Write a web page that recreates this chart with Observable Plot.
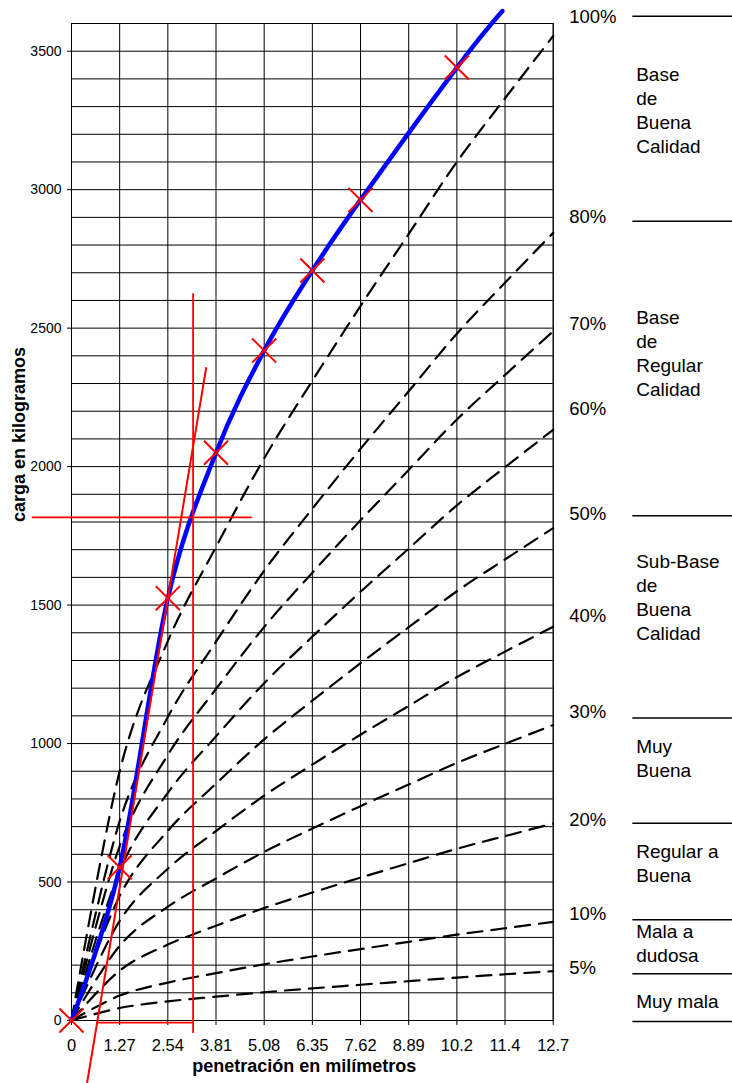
<!DOCTYPE html>
<html>
<head>
<meta charset="utf-8">
<script src="https://cdn.jsdelivr.net/npm/d3@7"></script>
<script src="https://cdn.jsdelivr.net/npm/@observablehq/plot@0.6"></script>
<style>
html, body { margin: 0; padding: 0; background: #fff; }
#chart svg { display: block; }
</style>
</head>
<body>
<div id="chart"></div>
<script>
// ---- axis ticks ----
const xTicks = [0, 1.27, 2.54, 3.81, 5.08, 6.35, 7.62, 8.89, 10.16, 11.43, 12.7];
const xTickLabels = ["0", "1.27", "2.54", "3.81", "5.08", "6.35", "7.62", "8.89", "10.2", "11.4", "12.7"];
const yTicks = [0, 500, 1000, 1500, 2000, 2500, 3000, 3500];
const yTickLabels = ["0", "500", "1000", "1500", "2000", "2500", "3000", "3500"];
const yGrid = [0,100,200,300,400,500,600,700,800,900,1000,1100,1200,1300,1400,1500,1600,1700,1800,1900,2000,2100,2200,2300,2400,2500,2600,2700,2800,2900,3000,3100,3200,3300,3400,3500,3600];

// ---- reference CBR curves (kg at each penetration) ----
const penet = [0, 1.27, 2.54, 3.81, 5.08, 6.35, 7.62, 8.89, 10.16, 11.43, 12.7];
const cbr5   = [0, 45, 69, 86, 102, 116, 129, 142, 155, 167, 178];
const cbr10  = [0, 90, 137, 171, 203, 231, 258, 284, 310, 333, 356];
const cbr20  = [0, 180, 274, 342, 406, 462, 516, 568, 620, 666, 711];
const cbr30  = [0, 270, 411, 513, 609, 693, 774, 852, 930, 999, 1067];
const cbr40  = [0, 360, 548, 684, 812, 924, 1032, 1136, 1240, 1332, 1422];
const cbr50  = [0, 450, 685, 855, 1015, 1155, 1290, 1420, 1550, 1665, 1778];
const cbr60  = [0, 540, 822, 1026, 1218, 1386, 1548, 1704, 1860, 1998, 2133];
const cbr70  = [0, 630, 959, 1197, 1421, 1617, 1806, 1988, 2170, 2331, 2489];
const cbr80  = [0, 720, 1096, 1368, 1624, 1848, 2064, 2272, 2480, 2664, 2844];
const cbr100 = [0, 900, 1370, 1710, 2030, 2310, 2580, 2840, 3100, 3330, 3555];

// ---- test curve (blue) and measured points (red X) ----
const testX = [0, 1.27, 2.54, 3.81, 5.08, 6.35, 7.62, 10.16, 11.36];
const testY = [0, 553, 1525, 2050, 2419, 2708, 2963, 3441, 3645];
const markX = [0, 1.27, 2.54, 3.81, 5.08, 6.35, 7.62, 10.16];
const markY = [0, 553, 1525, 2050, 2419, 2708, 2963, 3441];

// ---- red correction construction ----
const tangentX = [0.414, 3.55];
const tangentY = [-223, 2356];
const vertX = [3.206, 3.206];
const vertY = [-42, 2624];
const horizX = [-1.03, 4.74];
const horizY = [1817, 1817];
const baseX = [0.685, 3.206];
const baseY = [-8, -8];

// ---- right-hand annotations ----
const pctLabels = ["100%", "80%", "70%", "60%", "50%", "40%", "30%", "20%", "10%", "5%"];
const pctLabelKg = [3623, 2900, 2513, 2206, 1827, 1462, 1112, 722, 383, 188];
const classNames = ["Base\nde\nBuena\nCalidad", "Base\nde\nRegular\nCalidad", "Sub-Base\nde\nBuena\nCalidad", "Muy\nBuena", "Regular a\nBuena", "Mala a\ndudosa", "Muy mala"];
const classKg = [3291, 2412, 1531, 952, 571, 284, 72];
const classBoundsKg = [3626, 2886, 1823, 1092, 712, 364, 169, -4];

// ---- build tables ----
const curveSets = [[5, cbr5], [10, cbr10], [20, cbr20], [30, cbr30], [40, cbr40], [50, cbr50], [60, cbr60], [70, cbr70], [80, cbr80], [100, cbr100]];
const curveRows = curveSets.flatMap(([p, vals]) => vals.map((v, i) => ({pct: p, x: penet[i], y: v})));
const testRows = testX.map((x, i) => ({x, y: testY[i]}));
const markRows = markX.map((x, i) => ({x, y: markY[i]}));
const toRows = (xs, ys) => xs.map((x, i) => ({x, y: ys[i]}));
const pctRows = pctLabels.map((t, i) => ({t, kg: pctLabelKg[i]}));
const classRows = classNames.map((t, i) => ({t, kg: classKg[i]}));
const fmtX = new Map(xTicks.map((t, i) => [t, xTickLabels[i]]));
const fmtY = new Map(yTicks.map((t, i) => [t, yTickLabels[i]]));

const chart = Plot.plot({
  width: 732,
  height: 1083,
  marginLeft: 71,
  marginRight: 179.3,
  marginTop: 23,
  marginBottom: 63,
  style: {fontFamily: "'Liberation Sans', Arial, sans-serif", background: "#fff", color: "#000"},
  x: {domain: [0, 12.7]},
  y: {domain: [0, 3600]},
  marks: [
    Plot.ruleY(yGrid, {stroke: "#000", strokeWidth: 1}),
    Plot.ruleX(xTicks, {stroke: "#000", strokeWidth: 1}),
    Plot.frame({stroke: "#000", strokeWidth: 1}),
    Plot.axisX(xTicks, {tickSize: 5, tickPadding: 14, fontSize: 16.5, tickFormat: d => fmtX.get(d), label: null}),
    Plot.axisY(yTicks, {tickSize: 4, tickPadding: 6, fontSize: 14, tickFormat: d => fmtY.get(d), label: null}),
    Plot.line(curveRows, {x: "x", y: "y", z: "pct", stroke: "#000", strokeWidth: 2.2, strokeDasharray: "15,9", curve: "cardinal"}),
    Plot.line(testRows, {x: "x", y: "y", stroke: "#0000ff", strokeWidth: 4.5, curve: "cardinal"}),
    Plot.line(toRows(vertX, vertY), {x: "x", y: "y", stroke: "#ff0000", strokeWidth: 1.8}),
    Plot.line(toRows(horizX, horizY), {x: "x", y: "y", stroke: "#ff0000", strokeWidth: 1.8}),
    Plot.line(toRows(baseX, baseY), {x: "x", y: "y", stroke: "#ff0000", strokeWidth: 1.8}),
    Plot.line(toRows(tangentX, tangentY), {x: "x", y: "y", stroke: "#ff0000", strokeWidth: 2}),
    Plot.dot(markRows, {x: "x", y: "y", symbol: "times", r: 11, stroke: "#ff0000", strokeWidth: 2}),
    Plot.text(pctRows, {y: "kg", text: "t", frameAnchor: "right", dx: 16, textAnchor: "start", fontSize: 18.5, fill: "#000"}),
    Plot.ruleY(classBoundsKg, {x1: 14.8, x2: 17.6, stroke: "#000", strokeWidth: 1.5}),
    Plot.text(classRows, {y: "kg", text: "t", frameAnchor: "right", dx: 83, textAnchor: "start", fontSize: 19, lineHeight: 1.27, fill: "#000"}),
    Plot.text(["penetración en milímetros"], {text: d => d, frameAnchor: "bottom", dx: -8, dy: 51, fontSize: 18, fontWeight: "bold", fill: "#000"}),
    Plot.text(["carga en kilogramos"], {text: d => d, frameAnchor: "left", rotate: -90, dx: -52, fontSize: 18, fontWeight: "bold", fill: "#000"})
  ]
});
document.getElementById("chart").appendChild(chart);
</script>
</body>
</html>
